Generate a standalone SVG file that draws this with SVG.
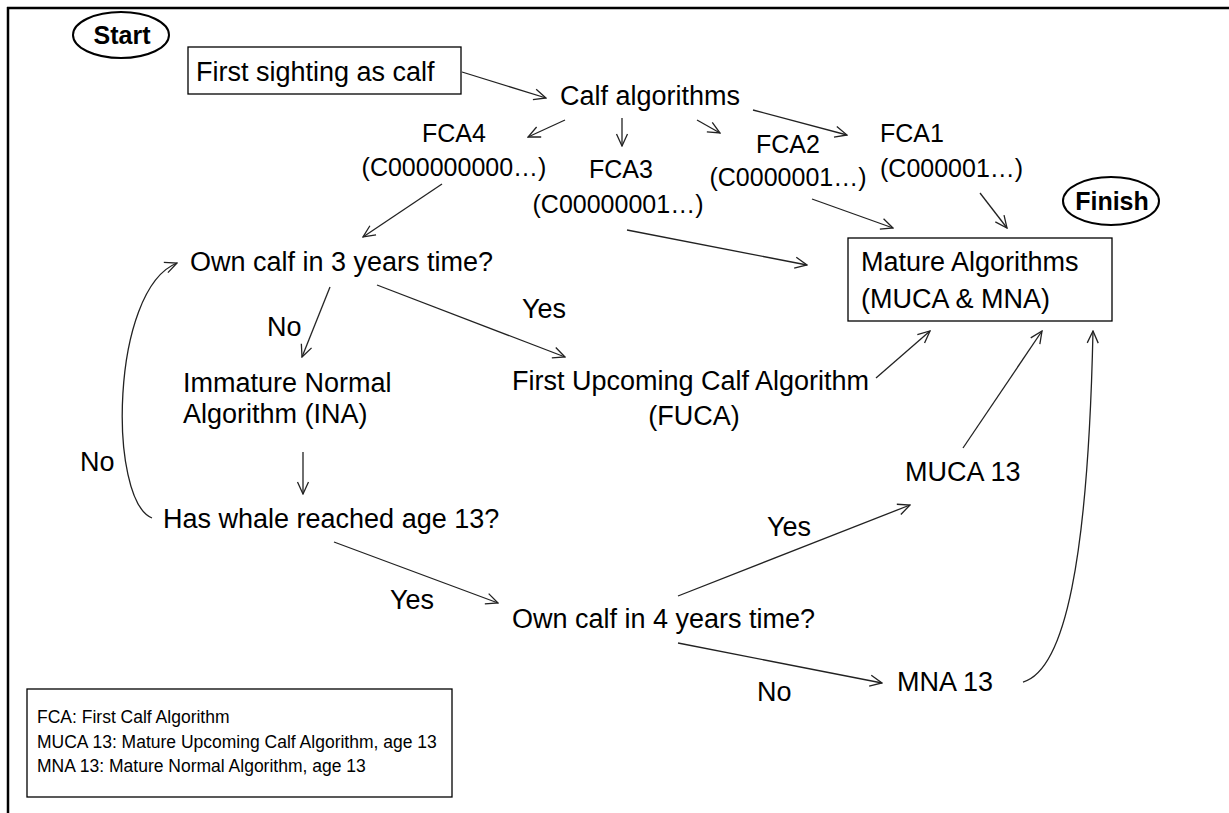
<svg xmlns="http://www.w3.org/2000/svg" width="1229" height="813" viewBox="0 0 1229 813">
<style>
.t{font-family:"Liberation Sans",Arial,sans-serif;font-size:27px;fill:#000}
.f{font-family:"Liberation Sans",Arial,sans-serif;font-size:25px;fill:#000}
.b{font-family:"Liberation Sans",Arial,sans-serif;font-size:25px;font-weight:bold;fill:#000}
.lg{font-family:"Liberation Sans",Arial,sans-serif;font-size:17.5px;fill:#000}
.box{fill:#fff;stroke:#000;stroke-width:1.3}
.ell{fill:#fff;stroke:#000;stroke-width:2}
.c{fill:none;stroke:#222;stroke-width:1.3;marker-end:url(#ah)}
.m{text-anchor:middle}
</style>
<defs>
<marker id="ah" markerUnits="userSpaceOnUse" markerWidth="14" markerHeight="14" viewBox="0 0 14 14" refX="13" refY="7" orient="auto">
<path d="M1,1.5 L13,7 L1,12.5" fill="none" stroke="#222" stroke-width="1.3"/>
</marker>
</defs>
<rect width="1229" height="813" fill="#fff"/>
<g id="frame" stroke="#000" stroke-width="2.5" fill="none">
<line x1="7" y1="8" x2="1229" y2="8"/>
<line x1="8" y1="7" x2="8" y2="813"/>
</g>
<g id="connectors">
<line class="c" x1="462" y1="72" x2="546" y2="98"/>
<line class="c" x1="565" y1="120" x2="528" y2="137"/>
<line class="c" x1="622" y1="118" x2="622" y2="146"/>
<line class="c" x1="697" y1="120" x2="720" y2="133"/>
<line class="c" x1="753" y1="110" x2="847" y2="135"/>
<line class="c" x1="812" y1="199" x2="893" y2="228"/>
<line class="c" x1="980" y1="193" x2="1007" y2="228"/>
<line class="c" x1="627" y1="230" x2="807" y2="265"/>
<line class="c" x1="442" y1="184" x2="363" y2="237"/>
<line class="c" x1="330" y1="287" x2="302" y2="357"/>
<line class="c" x1="377" y1="285" x2="565" y2="357"/>
<line class="c" x1="876" y1="378" x2="930" y2="331"/>
<line class="c" x1="303" y1="452" x2="303" y2="494"/>
<path class="c" d="M152,518 C108,500 110,290 177,263"/>
<line class="c" x1="334" y1="542" x2="498" y2="603"/>
<line class="c" x1="678" y1="596" x2="910" y2="505"/>
<line class="c" x1="678" y1="643" x2="882" y2="683"/>
<line class="c" x1="963" y1="448" x2="1042" y2="331"/>
<path class="c" d="M1023,682 C1065,670 1088,560 1093,331"/>
</g>
<g id="start"><ellipse class="ell" cx="121" cy="35" rx="48" ry="23"/><text class="b m" x="122" y="44">Start</text></g>
<g id="first-sighting"><rect class="box" x="188" y="47" width="273" height="47"/><text class="t" x="196" y="81">First sighting as calf</text></g>
<g id="calf-algorithms"><text class="t" x="560" y="105">Calf algorithms</text></g>
<g id="fca4"><text class="f m" x="454" y="142">FCA4</text><text class="f m" x="454" y="176">(C000000000…)</text></g>
<g id="fca3"><text class="f m" x="621" y="178">FCA3</text><text class="f m" x="618" y="213">(C00000001…)</text></g>
<g id="fca2"><text class="f m" x="788" y="153">FCA2</text><text class="f m" x="788" y="186">(C0000001…)</text></g>
<g id="fca1"><text class="f" x="880" y="142">FCA1</text><text class="f" x="880" y="177">(C000001…)</text></g>
<g id="finish"><ellipse class="ell" cx="1111" cy="201" rx="48" ry="24"/><text class="b m" x="1112" y="210">Finish</text></g>
<g id="mature"><rect class="box" x="848" y="238" width="264" height="83"/><text class="t" x="861" y="271">Mature Algorithms</text><text class="t" x="861" y="308">(MUCA &amp; MNA)</text></g>
<g id="own-calf-3"><text class="t" x="190" y="271">Own calf in 3 years time?</text></g>
<g id="label-no-1"><text class="t" x="267" y="336">No</text></g>
<g id="label-yes-1"><text class="t" x="522" y="318">Yes</text></g>
<g id="ina"><text class="t" x="183" y="392">Immature Normal</text><text class="t" x="183" y="423">Algorithm (INA)</text></g>
<g id="fuca"><text class="t" x="512" y="390">First Upcoming Calf Algorithm</text><text class="t m" x="694" y="425">(FUCA)</text></g>
<g id="label-no-loop"><text class="t" x="80" y="471">No</text></g>
<g id="has-whale"><text class="t" x="163" y="528">Has whale reached age 13?</text></g>
<g id="label-yes-2"><text class="t" x="390" y="609">Yes</text></g>
<g id="own-calf-4"><text class="t" x="512" y="628">Own calf in 4 years time?</text></g>
<g id="label-yes-3"><text class="t" x="767" y="536">Yes</text></g>
<g id="label-no-2"><text class="t" x="757" y="701">No</text></g>
<g id="muca13"><text class="t" x="905" y="481">MUCA 13</text></g>
<g id="mna13"><text class="t" x="897" y="691">MNA 13</text></g>
<g id="legend"><rect class="box" x="27" y="689" width="425" height="108"/>
<text class="lg" x="37" y="723">FCA: First Calf Algorithm</text>
<text class="lg" x="37" y="748">MUCA 13: Mature Upcoming Calf Algorithm, age 13</text>
<text class="lg" x="37" y="772">MNA 13: Mature Normal Algorithm, age 13</text></g>
</svg>
